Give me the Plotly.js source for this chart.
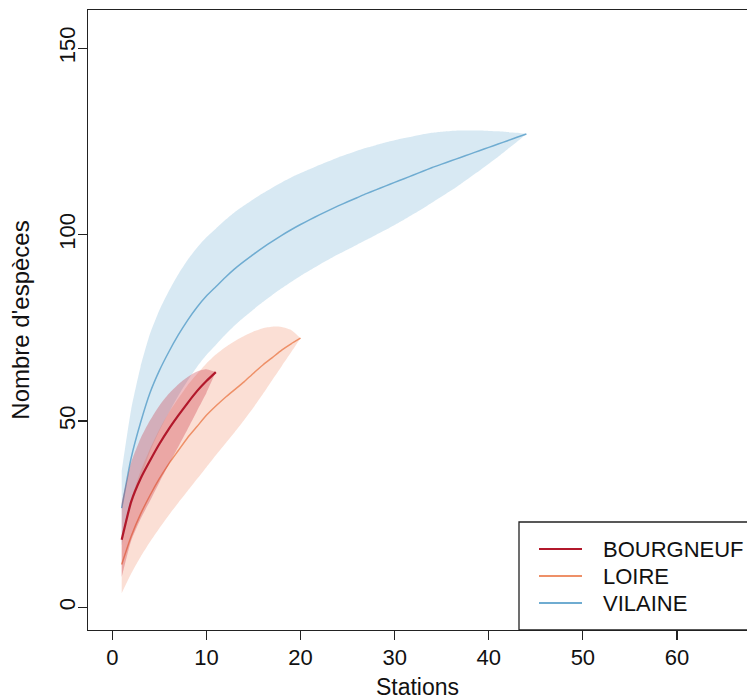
<!DOCTYPE html>
<html>
<head>
<meta charset="utf-8">
<script src="https://cdn.plot.ly/plotly-3.0.1.min.js"></script>
<style>
  html, body { margin: 0; padding: 0; background: #fff; }
  #chart { width: 747px; height: 700px; }
</style>
</head>
<body>
<div id="chart"></div>
<script>
// Species accumulation curves (mean and confidence envelope) per estuary.
const seriesNames = ['BOURGNEUF', 'LOIRE', 'VILAINE'];

const stationsBourgneuf = [1, 2, 3, 4, 5, 6, 7, 8, 9, 10, 11];
const meanBourgneuf  = [18.1, 28.3, 34.5, 39.3, 43.8, 47.8, 51.4, 54.8, 58, 60.7, 63.1];
const upperBourgneuf = [28.1, 38.8, 45.3, 50.1, 54.1, 57.3, 59.8, 61.8, 63.3, 63.9, 63.1];
const lowerBourgneuf = [8.1, 17.8, 23.7, 28.5, 33.5, 38.3, 43, 47.8, 52.7, 57.5, 63.1];

const stationsLoire = [1, 2, 3, 4, 5, 6, 7, 8, 9, 10, 11, 12, 13, 14, 15, 16, 17, 18, 19, 20];
const meanLoire  = [11.5, 19, 25, 30, 34.5, 38.5, 42, 45.5, 48.5, 51.5, 54, 56.3, 58.4, 60.5, 62.8, 65, 67, 69, 70.7, 72.2];
const upperLoire = [19.2, 29, 36.5, 42.5, 47.7, 52.2, 56, 59.6, 62.6, 65.4, 67.8, 69.8, 71.4, 72.8, 74, 74.9, 75.3, 75.2, 74.4, 72.2];
const lowerLoire = [3.8, 9, 13.5, 17.5, 21.2, 24.7, 28, 31.2, 34.4, 37.6, 40.8, 43.9, 47, 50.2, 53.6, 57.2, 61, 64.7, 68.4, 72.2];

const stationsVilaine = [1, 2, 3, 4, 5, 6, 7, 8, 9, 10, 11, 12, 13, 14, 15, 16, 17, 18, 19, 20, 21, 22,
  23, 24, 25, 26, 27, 28, 29, 30, 31, 32, 33, 34, 35, 36, 37, 38, 39, 40, 41, 42, 43, 44];
const meanVilaine = [26.6, 40, 49.5, 57.5, 63.5, 68.5, 73, 77, 80.5, 83.5, 86, 88.5, 90.8, 92.8, 94.7, 96.5,
  98.2, 99.8, 101.3, 102.7, 104, 105.3, 106.5, 107.7, 108.8, 109.9, 111, 112, 113, 114, 115, 116, 117, 118,
  118.9, 119.8, 120.7, 121.6, 122.5, 123.4, 124.3, 125.2, 126.1, 127];
const upperVilaine = [36.6, 53, 64.5, 73.3, 79.7, 84.8, 89.3, 93.2, 96.5, 99.3, 101.6, 103.9, 106, 107.8,
  109.5, 111.1, 112.6, 114, 115.3, 116.5, 117.6, 118.7, 119.7, 120.7, 121.6, 122.5, 123.3, 124, 124.7, 125.3,
  125.9, 126.4, 126.9, 127.3, 127.6, 127.8, 127.9, 127.9, 127.9, 127.8, 127.7, 127.5, 127.3, 127];
const lowerVilaine = [16.6, 27, 34.5, 41.7, 47.3, 52.2, 56.7, 60.8, 64.5, 67.7, 70.4, 73.1, 75.6, 77.8, 79.9,
  81.9, 83.8, 85.6, 87.3, 88.9, 90.4, 91.9, 93.3, 94.7, 96, 97.3, 98.6, 99.9, 101.2, 102.6, 104, 105.5, 107,
  108.6, 110.2, 111.8, 113.5, 115.3, 117.1, 119, 120.9, 122.9, 124.9, 127];

const xTickValues = [0, 10, 20, 30, 40, 50, 60];
const yTickValues = [0, 50, 100, 150];

const lineColors = ['#B2182B', '#EE9068', '#6FACD1'];
const bandColors = ['rgba(200, 40, 55, 0.30)', 'rgba(239, 138, 98, 0.27)', 'rgba(103, 169, 207, 0.26)'];
const lineWidths = [2.2, 1.5, 1.5];

const FONT = '"Liberation Sans", Arial, Helvetica, sans-serif';
const INK = '#222';

const groups = [
  { x: stationsBourgneuf, m: meanBourgneuf, up: upperBourgneuf, lo: lowerBourgneuf },
  { x: stationsLoire, m: meanLoire, up: upperLoire, lo: lowerLoire },
  { x: stationsVilaine, m: meanVilaine, up: upperVilaine, lo: lowerVilaine }
];

// draw order: VILAINE underneath, BOURGNEUF on top
const drawOrder = [2, 1, 0];
const traces = [];
drawOrder.forEach(function (i) {
  const g = groups[i];
  traces.push({
    type: 'scatter', mode: 'lines',
    x: g.x.concat(g.x.slice().reverse()),
    y: g.up.concat(g.lo.slice().reverse()),
    fill: 'toself', fillcolor: bandColors[i],
    line: { width: 0, color: 'rgba(0,0,0,0)', shape: 'spline', smoothing: 0.6 },
    hoverinfo: 'skip', showlegend: false
  });
  traces.push({
    type: 'scatter', mode: 'lines',
    x: g.x, y: g.m, name: seriesNames[i],
    line: { color: lineColors[i], width: lineWidths[i], shape: 'spline', smoothing: 0.5 },
    showlegend: false
  });
});

// boxed key in the lower right corner
const W = 747, H = 700;
const mL = 88, mR = 0, mT = 10, mB = 70;
const plotW = W - mL - mR, plotH = H - mT - mB;
const px2x = function (px) { return (px - mL) / plotW; };
const px2y = function (py) { return (H - mB - py) / plotH; };

const shapes = [{
  type: 'rect', xref: 'paper', yref: 'paper',
  x0: px2x(519), x1: px2x(790), y0: px2y(630), y1: px2y(522),
  line: { color: INK, width: 1.3 }, fillcolor: 'rgba(255,255,255,0)', layer: 'above'
}];
const annotations = [];
const keyRows = [549, 576, 603];
seriesNames.forEach(function (name, i) {
  shapes.push({
    type: 'line', xref: 'paper', yref: 'paper',
    x0: px2x(539), x1: px2x(582), y0: px2y(keyRows[i]), y1: px2y(keyRows[i]),
    line: { color: lineColors[i], width: 2 }
  });
  annotations.push({
    xref: 'paper', yref: 'paper', x: px2x(601), y: px2y(keyRows[i]),
    xanchor: 'left', yanchor: 'middle', showarrow: false,
    text: name, font: { family: FONT, size: 22, color: '#111' }
  });
});

const layout = {
  width: W, height: H,
  margin: { l: mL, r: mR, t: mT, b: mB, pad: 0 },
  paper_bgcolor: '#fff', plot_bgcolor: '#fff',
  showlegend: false,
  font: { family: FONT, color: '#111' },
  xaxis: {
    range: [-2.58, 67.44], tickmode: 'array', tickvals: xTickValues,
    ticks: 'outside', ticklen: 9, tickwidth: 1.2, tickcolor: INK,
    showline: true, linecolor: INK, linewidth: 1.3, mirror: true,
    showgrid: false, zeroline: false,
    tickfont: { family: FONT, size: 22, color: '#111' },
    ticklabelstandoff: -2,
    title: { text: 'Stations', font: { family: FONT, size: 23, color: '#111' }, standoff: 17 }
  },
  yaxis: {
    range: [-6.09, 160.26], tickmode: 'array', tickvals: yTickValues,
    ticks: 'outside', ticklen: 9, tickwidth: 1.2, tickcolor: INK,
    showline: true, linecolor: INK, linewidth: 1.3, mirror: false,
    showgrid: false, zeroline: false, tickangle: -90,
    tickfont: { family: FONT, size: 22, color: '#111' },
    ticklabelstandoff: -6,
    title: { text: "Nombre d'espèces", font: { family: FONT, size: 24, color: '#111' }, standoff: 18 }
  },
  shapes: shapes,
  annotations: annotations
};

Plotly.newPlot('chart', traces, layout, { displayModeBar: false, staticPlot: true });
</script>
</body>
</html>
